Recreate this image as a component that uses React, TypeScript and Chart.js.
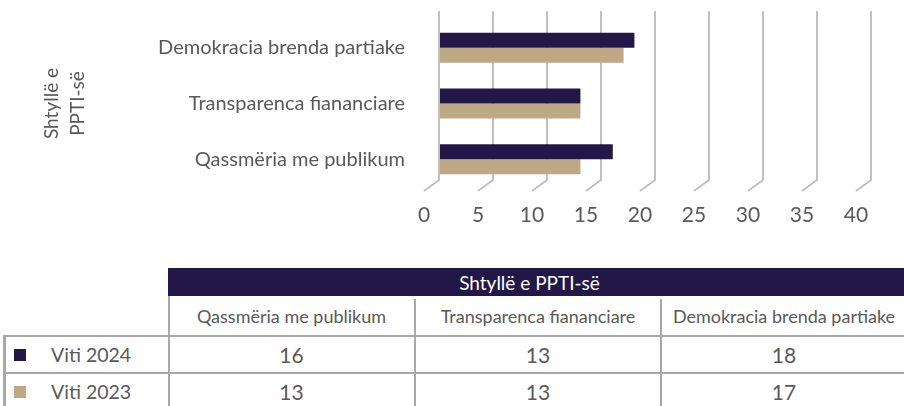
import React, { useEffect, useRef } from 'react';
import { Chart, registerables } from 'chart.js';

Chart.register(...registerables);

// ---------- data ----------
const categories = ['Qassmëria me publikum', 'Transparenca fiananciare', 'Demokracia brenda partiake'];
const seriesNames = ['Viti 2024', 'Viti 2023'];
const values2024 = [16, 13, 18];
const values2023 = [13, 13, 17];
const axisTitle = ['Shtyllë e', 'PPTI-së'];
const tableTitle = 'Shtyllë e PPTI-së';
const xMin = 0;
const xMax = 40;
const xStep = 5;

// ---------- styles ----------
const NAVY = '#221848';
const TAN = '#BFA884';
const TEXT = '#595959';
const GRID = '#C0C0C0';
const BORDER = '#A8A8A8';
const FONT = 'Lato, "Noto Sans", sans-serif';

const slantGrid = {
  id: 'slantGrid',
  beforeDatasetsDraw(chart: any) {
    const { ctx, chartArea, scales } = chart;
    const xs = scales.x;
    const top = chartArea.top - 9;
    const bend = chartArea.bottom - 7;
    const floor = chartArea.bottom + 4;
    const dx = 15;
    ctx.save();
    ctx.strokeStyle = GRID;
    ctx.lineWidth = 2;
    xs.ticks.forEach((t: any) => {
      const px = Math.round(xs.getPixelForValue(t.value)) - 1;
      ctx.beginPath();
      ctx.moveTo(px, top);
      ctx.lineTo(px, bend);
      ctx.lineTo(px - dx, floor);
      ctx.stroke();
    });
    ctx.restore();
  },
};

function BarChart() {
  const ref = useRef<HTMLCanvasElement | null>(null);
  useEffect(() => {
    if (!ref.current) return;
    const chart = new Chart(ref.current, {
      type: 'bar',
      data: {
        labels: categories,
        datasets: [
          { label: seriesNames[0], data: values2024, backgroundColor: NAVY, borderWidth: 0, barPercentage: 1, categoryPercentage: 0.54 },
          { label: seriesNames[1], data: values2023, backgroundColor: TAN, borderWidth: 0, barPercentage: 1, categoryPercentage: 0.54 },
        ],
      },
      options: {
        indexAxis: 'y',
        animation: false,
        responsive: true,
        maintainAspectRatio: false,
        devicePixelRatio: 1,
        layout: { padding: { top: 20, right: 32, left: 0, bottom: 0 } },
        plugins: { legend: { display: false }, tooltip: { enabled: false } },
        scales: {
          x: {
            type: 'linear',
            min: xMin,
            max: xMax,
            grid: { display: false, drawTicks: false },
            border: { display: false },
            ticks: {
              stepSize: xStep,
              labelOffset: -16,
              padding: 16,
              color: TEXT,
              font: { family: FONT, size: 21 },
            },
            afterFit: (s: any) => {
              s.height = 63;
              s.paddingLeft = 0;
              s.paddingRight = 0;
            },
          },
          y: {
            type: 'category',
            reverse: true,
            grid: { display: false, drawTicks: false },
            border: { display: false },
            ticks: {
              padding: 35,
              color: TEXT,
              font: { family: FONT, size: 20 },
            },
            title: {
              display: true,
              text: axisTitle,
              color: TEXT,
              font: { family: FONT, size: 19, lineHeight: 1.35 },
              padding: { top: 39, bottom: 0 },
            },
            afterFit: (s: any) => {
              s.width = 440;
              s.paddingTop = 0;
              s.paddingBottom = 0;
            },
          },
        },
      },
      plugins: [slantGrid],
    } as any);
    return () => chart.destroy();
  }, []);
  return (
    <div style={{ position: 'absolute', left: 0, top: 0, width: 904, height: 250 }}>
      <canvas ref={ref} />
    </div>
  );
}

const cellBase: React.CSSProperties = {
  position: 'absolute',
  display: 'flex',
  alignItems: 'center',
  justifyContent: 'center',
  fontFamily: FONT,
  color: TEXT,
  whiteSpace: 'nowrap',
};

function DataTable() {
  const colX = [4, 168, 415, 661, 907];
  const rows = [values2024, values2023];
  const colors = [NAVY, TAN];
  const rowTop = [336, 373];
  const rowH = 37;
  const line = (l: number, t: number, w: number, h: number, key: string) => (
    <div key={key} style={{ position: 'absolute', left: l, top: t, width: w, height: h, background: BORDER }} />
  );
  return (
    <>
      <div style={{ ...cellBase, left: 168, top: 268, width: 739, height: 28, background: NAVY, color: '#FFFFFF', fontSize: 19, paddingRight: 16, boxSizing: 'border-box' }}>
        {tableTitle}
      </div>
      {categories.map((c, i) => (
        <div key={'h' + i} style={{ ...cellBase, left: colX[i + 1], top: 296, width: colX[i + 2] - colX[i + 1], height: 40, fontSize: 18 }}>
          {c}
        </div>
      ))}
      {rows.map((vals, r) => (
        <React.Fragment key={'r' + r}>
          <div style={{ position: 'absolute', left: 14, top: rowTop[r] + 13, width: 12, height: 12, background: colors[r] }} />
          <div style={{ ...cellBase, justifyContent: 'flex-start', left: 51, top: rowTop[r], height: rowH, fontSize: 19.5 }}>
            {seriesNames[r]}
          </div>
          {vals.map((v, i) => (
            <div key={'v' + i} style={{ ...cellBase, left: colX[i + 1], top: rowTop[r], width: colX[i + 2] - colX[i + 1], height: rowH, fontSize: 21 }}>
              {v}
            </div>
          ))}
        </React.Fragment>
      ))}
      {line(4, 335, 903, 2, 'h1')}
      {line(4, 372, 903, 2, 'h2')}
      {line(4, 409, 903, 2, 'h3')}
      {line(3, 335, 3, 80, 'v0')}
      {line(168, 296, 2, 120, 'v1')}
      {line(414, 299, 2, 120, 'v2')}
      {line(660, 299, 2, 120, 'v3')}
    </>
  );
}

export default function App() {
  return (
    <div style={{ position: 'fixed', left: 0, top: 0, width: 904, height: 406, overflow: 'hidden', background: '#FFFFFF' }}>
      <BarChart />
      <DataTable />
    </div>
  );
}
